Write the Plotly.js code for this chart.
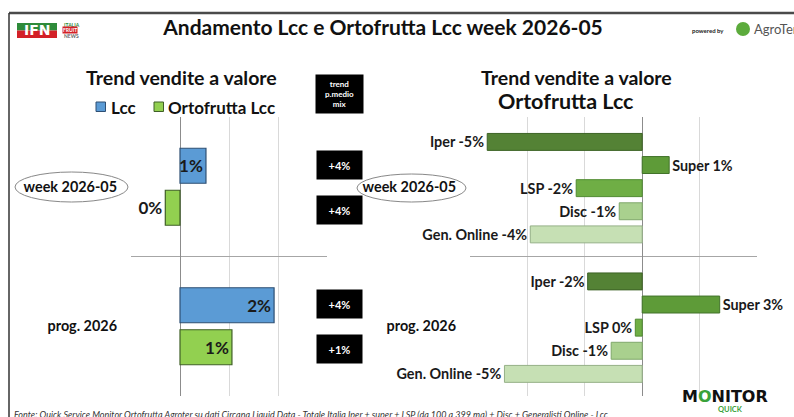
<!DOCTYPE html>
<html>
<head>
<meta charset="utf-8">
<script src="https://cdn.plot.ly/plotly-3.0.1.min.js"></script>
<style>
html,body{margin:0;padding:0;background:#fff;}
#chart{width:794px;height:417px;}
</style>
</head>
<body>
<div id="chart"></div>
<script>
// ---- DATA ----
const periods = ['week 2026-05', 'prog. 2026'];
const seriesNames = ['Lcc', 'Ortofrutta Lcc'];
const lccValues = [0.53, 1.92];
const ortoValues = [-0.3, 1.06];
const lccLabels = ['1%', '2%'];
const ortoLabels = ['0%', '1%'];
const mixLcc = ['+4%', '+4%'];
const mixOrto = ['+4%', '+1%'];
const channels = ['Iper', 'Super', 'LSP', 'Disc', 'Gen. Online'];
const channelWeek = [-5.4, 0.94, -2.3, -0.8, -3.9];
const channelProg = [-1.9, 2.7, -0.24, -1.08, -4.8];
const channelWeekLabels = ['-5%', '1%', '-2%', '-1%', '-4%'];
const channelProgLabels = ['-2%', '3%', '0%', '-1%', '-5%'];
const leftTicks = [-1, 0, 1, 2, 3];
const rightTicks = [-6, -4, -2, 0, 2, 4];

// ---- STYLE ----
const FONT = 'Lato, "Liberation Sans", sans-serif';
const W = 794, H = 417, PT = 117, PB = 396;
const px = v => v / W;
const py = v => (PB - v) / (PB - PT);
const seriesColors = ['#5b9bd5', '#92d050'];
const seriesLines = ['#2e4f73', '#3f5f26'];
const channelColors = ['#548235', '#5e9b38', '#6fae45', '#a9d08e', '#c6e0b4'];
const channelLines = ['#3d6326', '#42732a', '#4f8a30', '#7fa86a', '#95b087'];
const boldFont = (size, color) => ({family: FONT, size: size, color: color || '#1a1a1a', weight: 'bold'});

const traces = [];
traces.push({
  type: 'bar', orientation: 'h', name: seriesNames[0], showlegend: false,
  x: lccValues, y: periods, text: lccLabels,
  textposition: ['inside', 'inside'], insidetextanchor: 'end', textangle: 0,
  textfont: boldFont(17), insidetextfont: boldFont(17),
  constraintext: 'none', cliponaxis: false,
  marker: {color: seriesColors[0], line: {color: seriesLines[0], width: 1.2}},
  offset: -0.276, width: 0.251,
  xaxis: 'x', yaxis: 'y', hoverinfo: 'skip'
});
traces.push({
  type: 'bar', orientation: 'h', name: seriesNames[1], showlegend: false,
  x: ortoValues, y: periods, text: ortoLabels,
  textposition: ['outside', 'inside'], insidetextanchor: 'end', textangle: 0,
  textfont: boldFont(17), insidetextfont: boldFont(17), outsidetextfont: boldFont(17),
  constraintext: 'none', cliponaxis: false,
  marker: {color: seriesColors[1], line: {color: seriesLines[1], width: 1.2}},
  offset: 0.025, width: 0.251,
  xaxis: 'x', yaxis: 'y', hoverinfo: 'skip'
});
const pitch = 23.2 / 140, bw = 17 / 140;
channels.forEach((c, k) => {
  const center = (-45 / 140) + k * pitch;
  traces.push({
    type: 'bar', orientation: 'h', name: c, showlegend: false,
    x: [channelWeek[k], channelProg[k]], y: periods,
    text: [c + ' ' + channelWeekLabels[k], c + ' ' + channelProgLabels[k]],
    textposition: 'outside', textangle: 0,
    outsidetextfont: boldFont(14.4), textfont: boldFont(14.4),
    constraintext: 'none', cliponaxis: false,
    marker: {color: channelColors[k], line: {color: channelLines[k], width: 1}},
    offset: center - bw / 2, width: bw,
    xaxis: 'x2', yaxis: 'y2', hoverinfo: 'skip'
  });
});

const annotations = [];
const ann = (o) => annotations.push(Object.assign({xref: 'paper', yref: 'paper', showarrow: false,
  xanchor: 'center', yanchor: 'middle'}, o));
// mix boxes
periods.forEach((p, i) => {
  [[mixLcc[i], 22], [mixOrto[i], -23]].forEach(([t, sh]) => {
    ann({text: '<b>' + t + '</b>', yref: 'y', x: px(339.5), y: p,
      yshift: sh, bgcolor: '#000', width: 45, height: 28,
      borderpad: 0, font: {family: FONT, size: 11, color: '#fff'}});
  });
});
ann({text: '<b>trend<br>p.medio<br>mix</b>', x: px(339.5), y: py(94), bgcolor: '#000',
  width: 47, height: 38, borderpad: 0, font: {family: FONT, size: 8, color: '#fff'}});
// sub titles
ann({text: '<b>Trend vendite a valore</b>', x: px(181), y: py(77), font: {family: FONT, size: 19.5, color: '#111'}});
ann({text: '<b>Trend vendite a valore</b>', x: px(576), y: py(77), font: {family: FONT, size: 19.5, color: '#111'}});
ann({text: '<b>Ortofrutta Lcc</b>', x: px(566), y: py(101), font: {family: FONT, size: 21.5, color: '#111'}});
// legend (custom)
ann({text: '<b>' + seriesNames[0] + '</b>', x: px(109), y: py(107), xanchor: 'left', font: {family: FONT, size: 17, color: '#111'}});
ann({text: '<b>' + seriesNames[1] + '</b>', x: px(166), y: py(107), xanchor: 'left', font: {family: FONT, size: 17, color: '#111'}});
// footer
ann({text: '<i>Fonte: Quick Service Monitor Ortofrutta Agroter su dati Circana Liquid Data - Totale Italia Iper + super + LSP (da 100 a 399 mq) + Disc + Generalisti Online - Lcc</i>',
  x: px(12), y: py(414), xanchor: 'left', font: {family: FONT, size: 9, color: '#333'}});
// logos (text)
ann({text: '<b>IFN</b>', x: px(37), y: py(30.5), font: {family: 'DejaVu Sans', size: 14, color: '#fff'}});
ann({text: '<b>ITALIA</b>', x: px(62), y: py(25), xanchor: 'left', font: {family: FONT, size: 5, color: '#2e8b3a'}});
ann({text: '<b>FRUIT</b>', x: px(62), y: py(30.5), xanchor: 'left', bgcolor: '#d32027', borderpad: 0, font: {family: FONT, size: 5, color: '#fff'}});
ann({text: '<b>NEWS</b>', x: px(62), y: py(36), xanchor: 'left', font: {family: FONT, size: 5, color: '#666'}});
ann({text: '<b>powered by</b>', x: px(708), y: py(30), font: {family: FONT, size: 6, color: '#222'}});
ann({text: 'AgroTer', x: px(752), y: py(29), xanchor: 'left', font: {family: FONT, size: 13, color: '#555'}});
ann({text: '<b>M<span style="color:#3aa23a">O</span>NITOR</b>', x: px(725), y: py(396.5), font: {family: '"DejaVu Sans"', size: 16, color: '#111'}});
ann({text: '<b>QUICK</b>', x: px(730), y: py(409.5), font: {family: FONT, size: 7.5, color: '#3aa23a'}});

const shapes = [
  {type: 'rect', xref: 'paper', yref: 'paper', x0: px(9), x1: 1, y0: py(11.8), y1: py(14.2), line: {width: 0}, fillcolor: '#4a4a4a'},
  {type: 'line', xref: 'paper', yref: 'paper', x0: px(9), x1: px(9), y0: py(13), y1: py(417), line: {color: '#333', width: 1.5}},
  {type: 'circle', xref: 'paper', yref: 'paper', x0: px(15), x1: px(128), y0: py(172), y1: py(202), line: {color: '#888', width: 1}, fillcolor: 'rgba(0,0,0,0)', layer: 'below'},
  {type: 'circle', xref: 'paper', yref: 'paper', x0: px(357), x1: px(466), y0: py(174), y1: py(202), line: {color: '#888', width: 1}, fillcolor: 'rgba(0,0,0,0)', layer: 'below'},
  // legend swatches
  {type: 'rect', xref: 'paper', yref: 'paper', x0: px(96), x1: px(105.5), y0: py(102), y1: py(111.5), line: {color: seriesLines[0], width: 1}, fillcolor: seriesColors[0]},
  {type: 'rect', xref: 'paper', yref: 'paper', x0: px(154), x1: px(163.5), y0: py(102), y1: py(111.5), line: {color: seriesLines[1], width: 1}, fillcolor: seriesColors[1]},
  // logo pieces
  {type: 'rect', xref: 'paper', yref: 'paper', x0: px(17), x1: px(57), y0: py(23), y1: py(30.5), line: {width: 0}, fillcolor: '#2e8b3a', layer: 'below'},
  {type: 'rect', xref: 'paper', yref: 'paper', x0: px(17), x1: px(57), y0: py(30.5), y1: py(38), line: {width: 0}, fillcolor: '#d32027', layer: 'below'},
  {type: 'circle', xref: 'paper', yref: 'paper', x0: px(736), x1: px(750), y0: py(22), y1: py(36), line: {width: 0}, fillcolor: '#5cab3c'}
];

const yAxisBase = {
  type: 'category', autorange: 'reversed', tickson: 'boundaries',
  showgrid: true, gridcolor: '#a6a6a6', gridwidth: 1, ticks: '',
  ticklabelstandoff: 13, tickfont: boldFont(14.4, '#111'),
  zeroline: false, showline: false, domain: [0, 1]
};

const layout = {
  width: W, height: H,
  margin: {l: 0, r: 0, t: PT, b: H - PB, pad: 0},
  paper_bgcolor: '#fff', plot_bgcolor: '#fff',
  barmode: 'overlay',
  title: {text: '<b>Andamento Lcc e Ortofrutta Lcc week 2026-05</b>', x: px(383), xanchor: 'center',
    y: 1 - 28 / H, yanchor: 'middle', font: {family: FONT, size: 21, color: '#111'}},
  font: {family: FONT},
  showlegend: false,
  xaxis: {domain: [px(131), px(327)], range: [-1, 3], tickvals: leftTicks, showticklabels: false,
    showgrid: true, gridcolor: '#d9d9d9', zeroline: true, zerolinecolor: '#8c8c8c', zerolinewidth: 1,
    fixedrange: true, anchor: 'y'},
  yaxis: Object.assign({}, yAxisBase, {anchor: 'x'}),
  xaxis2: {domain: [px(470), px(757)], range: [-6, 4], tickvals: rightTicks, showticklabels: false,
    showgrid: true, gridcolor: '#d9d9d9', zeroline: true, zerolinecolor: '#8c8c8c', zerolinewidth: 1,
    fixedrange: true, anchor: 'y2'},
  yaxis2: Object.assign({}, yAxisBase, {anchor: 'x2'}),
  annotations: annotations,
  shapes: shapes
};

Plotly.newPlot('chart', traces, layout, {staticPlot: true, displayModeBar: false});
</script>
</body>
</html>
